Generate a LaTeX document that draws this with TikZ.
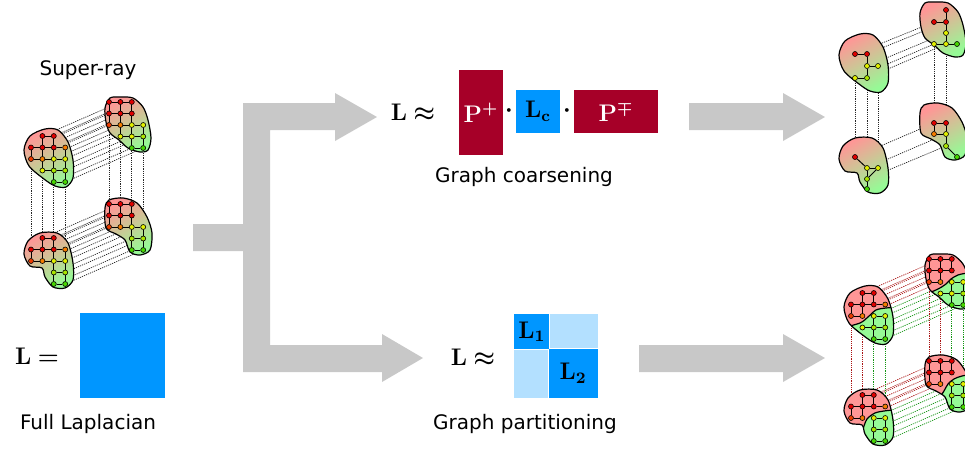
\documentclass[tikz,border=0pt]{standalone}
\usepackage[no-math]{fontspec}
\usepackage{amsmath}
\newfontfamily\labelfont{DejaVu Sans}

\definecolor{projred}{RGB}{166,0,40}
\definecolor{lapblue}{RGB}{0,150,255}
\definecolor{lapblight}{RGB}{179,224,255}
\definecolor{arrowgray}{RGB}{200,200,200}
\definecolor{blobred}{RGB}{255,150,150}
\definecolor{blobgreen}{RGB}{150,250,150}
\definecolor{nred}{RGB}{225,0,0}
\definecolor{nredor}{RGB}{235,60,0}
\definecolor{norange}{RGB}{245,125,0}
\definecolor{nyellow}{RGB}{225,240,0}
\definecolor{nlime}{RGB}{170,230,0}
\definecolor{ngreen}{RGB}{70,215,0}
\definecolor{dotred}{RGB}{170,20,20}
\definecolor{dotgreen}{RGB}{20,150,20}

\pgfdeclarelayer{bg}
\pgfsetlayers{bg,main}

\tikzset{
	gnode/.style={circle, draw=black, line width=0.3pt, inner sep=0pt, minimum size=2.5pt},
	gedge/.style={line width=0.5pt},
	dots/.style={line width=0.35pt, dash pattern=on 0.6pt off 0.5pt, black!85},
	blob/.style={draw=black, line width=0.6pt},
	rayshade/.style={top color=blobred, bottom color=blobgreen, shading angle=30},
	bigarrow/.style={fill=arrowgray},
	lbl/.style={font=\labelfont\fontsize{10}{12}\selectfont},
	eq/.style={font=\fontsize{12}{14}\selectfont},
	matbox/.style={inner sep=0pt, font=\fontsize{12}{14}\selectfont},
}

% blob outlines of one super-ray seen in four views
\newcommand{\shTL}{plot[smooth cycle] coordinates {(24,150) (30,136) (45,129) (58,130) (68,142) (73,160) (73,178) (66,187) (55,186) (44,179) (29,166)}}
\newcommand{\shTR}{plot[smooth cycle] coordinates {(105,108) (110,98) (120,97) (133,98) (143,107) (148,120) (151,138) (148,150) (140,152) (128,148) (119,140) (110,133) (106,122)}}
\newcommand{\shBL}{plot[smooth cycle] coordinates {(24,254) (28,241) (40,233) (57,233) (68,243) (73,263) (73,280) (65,288) (53,287) (45,277) (42,268) (30,266)}}
\newcommand{\shBR}{plot[smooth cycle] coordinates {(105,208) (109,200) (123,198) (137,203) (147,217) (152,233) (150,250) (140,255) (130,252) (125,240) (116,234) (106,228)}}

\newcommand{\nodesTL}{1/0/nred, 2/0/nred, 0/1/nred, 1/1/nred, 2/1/nred, 3/1/norange, 0/2/nredor, 1/2/norange, 2/2/nyellow, 3/2/nyellow, 1/3/nyellow, 2/3/nlime, 3/3/nlime, 2/4/ngreen, 3/4/ngreen}
\newcommand{\nodesTR}{0/0/nred, 1/0/nred, 2/0/nred, 0/1/nred, 1/1/nred, 2/1/nred, 0/2/nredor, 1/2/norange, 2/2/nyellow, 3/2/nyellow, 1/3/nyellow, 2/3/nyellow, 3/3/nlime, 2/4/ngreen, 3/4/ngreen}
\newcommand{\nodesBL}{1/0/nred, 2/0/nred, 0/1/nred, 1/1/nred, 2/1/nred, 3/1/norange, 0/2/nredor, 1/2/norange, 2/2/nyellow, 3/2/nyellow, 2/3/nlime, 3/3/nlime, 2/4/ngreen, 3/4/ngreen}
\newcommand{\nodesBR}{0/0/nred, 1/0/nred, 2/0/nred, 0/1/nred, 1/1/nred, 2/1/nred, 0/2/nredor, 1/2/norange, 2/2/nyellow, 3/2/nyellow, 2/3/nlime, 3/3/nlime, 2/4/ngreen, 3/4/ngreen}

\newcommand{\redA}{1-0/2-0, 1-0/1-1, 2-0/2-1, 0-1/1-1, 1-1/2-1, 2-1/3-1, 0-1/0-2, 1-1/1-2, 0-2/1-2}
\newcommand{\redB}{0-0/1-0, 1-0/2-0, 0-0/0-1, 1-0/1-1, 2-0/2-1, 0-1/1-1, 1-1/2-1, 0-1/0-2, 1-1/1-2, 0-2/1-2}
\newcommand{\greenA}{2-2/3-2, 2-2/2-3, 3-2/3-3, 1-3/2-3, 2-3/3-3, 2-3/2-4, 3-3/3-4, 2-4/3-4}
\newcommand{\greenB}{2-2/3-2, 2-2/2-3, 3-2/3-3, 2-3/3-3, 2-3/2-4, 3-3/3-4, 2-4/3-4}
\newcommand{\crossTL}{2-1/2-2, 3-1/3-2, 1-2/2-2, 1-2/1-3}
\newcommand{\crossTR}{2-1/2-2, 1-2/2-2, 1-2/1-3}
\newcommand{\crossBL}{2-1/2-2, 3-1/3-2, 1-2/2-2}
\newcommand{\crossBR}{2-1/2-2, 1-2/2-2}

\newcommand{\raypairs}{1-0, 2-0, 0-1, 1-1, 2-1, 0-2, 1-2, 2-2, 3-2, 2-3, 3-3, 2-4, 3-4}
\newcommand{\redpairs}{1-0, 2-0, 0-1, 1-1, 2-1, 0-2, 1-2}
\newcommand{\greenpairs}{2-2, 3-2, 2-3, 3-3, 2-4, 3-4}

\newcommand{\raynodes}[4]{\foreach \c/\r/\k in #4 {\node[gnode, fill=\k] (#1-\c-\r) at ({#2+11.4*\c},{#3+11.5*\r}) {};}}
\newcommand{\rayedges}[2]{\foreach \a/\b in #2 {\draw[gedge] (#1-\a) -- (#1-\b);}}

\begin{document}
\begin{tikzpicture}[x=0.5pt, y=-0.5pt]
	\useasboundingbox (0,0) rectangle (965,451);

	% grey arrows
	\fill[bigarrow] (193,224) -- (243,224) -- (243,103) -- (335,103) -- (335,93) -- (377,117) -- (335,141) -- (335,130) -- (270,130) -- (270,345) -- (382,345) -- (382,334) -- (423,358) -- (382,382) -- (382,372) -- (243,372) -- (243,251) -- (193,251) -- cycle;
	\fill[bigarrow] (689,103) -- (783,103) -- (783,93) -- (825,117) -- (783,141) -- (783,130) -- (689,130) -- cycle;
	\fill[bigarrow] (639,345) -- (783,345) -- (783,334) -- (825,358) -- (783,382) -- (783,372) -- (639,372) -- cycle;

	% full Laplacian
	\node[lbl] (superray) at (88,70) {Super-ray};
	\node[font=\fontsize{13}{15}\selectfont] (lfull) at (37,356) {$\mathbf{L}\boldsymbol{=}$};
	\node[fill=lapblue, minimum size=42.5pt, inner sep=0pt] (full) at (122.5,355.5) {};
	\node[lbl] (fulltxt) at (88,424) {Full Laplacian};

	% coarsening
	\node[eq] (lcoarse) at (413,113) {$\mathbf{L}\boldsymbol{\approx}$};
	\node[matbox, fill=projred, text=white, minimum width=22pt, minimum height=42.5pt] (pplus) at (481,112.5) {$\mathbf{P}^{\boldsymbol{+}}$};
	\node[eq] (dota) at (509,111) {$\boldsymbol{\cdot}$};
	\node[matbox, fill=lapblue, minimum width=22pt, minimum height=21.5pt] (lc) at (538,111.5) {$\mathbf{L_c}$};
	\node[eq] (dotb) at (567,111) {$\boldsymbol{\cdot}$};
	\node[matbox, fill=projred, text=white, minimum width=42pt, minimum height=21.5pt] (pmp) at (616,111.5) {$\mathbf{P}^{\boldsymbol{\mp}}$};
	\node[lbl] (coarsetxt) at (524,177) {Graph coarsening};

	% partitioning
	\node[eq] (lpart) at (473,358) {$\mathbf{L}\boldsymbol{\approx}$};
	\node[matbox, fill=lapblue, minimum size=17.5pt, anchor=north west] (lone) at (514,314) {$\mathbf{L_1}$};
	\node[matbox, fill=lapblue, minimum size=24.5pt, anchor=south east] (ltwo) at (598,398) {$\mathbf{L_2}$};
	\fill[lapblight] (lone.north east) rectangle (ltwo.north east);
	\fill[lapblight] (lone.south west) rectangle (ltwo.south west);
	\node[lbl] (parttxt) at (525,424) {Graph partitioning};

	% super-ray, full graph
	\shadedraw[blob, rayshade] \shTL;
	\shadedraw[blob, rayshade] \shTR;
	\shadedraw[blob, rayshade] \shBL;
	\shadedraw[blob, rayshade] \shBR;
	\raynodes{s-tl}{31}{136}{\nodesTL}
	\raynodes{s-tr}{109}{102}{\nodesTR}
	\raynodes{s-bl}{31}{238}{\nodesBL}
	\raynodes{s-br}{109}{204}{\nodesBR}
	\rayedges{s-tl}{\redA} \rayedges{s-tl}{\greenA} \rayedges{s-tl}{\crossTL}
	\rayedges{s-tr}{\redB} \rayedges{s-tr}{\greenA} \rayedges{s-tr}{\crossTR}
	\rayedges{s-bl}{\redA} \rayedges{s-bl}{\greenB} \rayedges{s-bl}{\crossBL}
	\rayedges{s-br}{\redB} \rayedges{s-br}{\greenB} \rayedges{s-br}{\crossBR}
	\begin{pgfonlayer}{bg}
		\foreach \n in \raypairs {\draw[dots] (s-tl-\n) -- (s-tr-\n); \draw[dots] (s-bl-\n) -- (s-br-\n);}
		\foreach \a/\b in {0-2/0-1, 1-3/1-0, 2-4/2-0, 3-4/3-1} {\draw[dots] (s-tl-\a) -- (s-bl-\b);}
		\foreach \a/\b in {0-2/0-0, 1-3/1-0, 2-4/2-0, 3-4/3-2} {\draw[dots] (s-tr-\a) -- (s-br-\b);}
	\end{pgfonlayer}

	% coarsened graph
	\begin{scope}[shift={(815,-95)}]
		\shadedraw[blob, rayshade] \shTL;
		\shadedraw[blob, rayshade] \shTR;
		\shadedraw[blob, rayshade] \shBL;
		\shadedraw[blob, rayshade] \shBR;
		\foreach \n/\x/\y/\k in {a/40/149/nred, b/52/149/nred, c/52/161/nyellow, d/63/161/nyellow, e/40/173/nyellow, f/52/173/nlime,
			t1/131/105/nred, t2/119/117/nred, t3/131/117/nred, t4/131/128/nyellow, t5/119/139/nyellow, t6/131/139/nyellow, t7/142/139/ngreen,
			g/40/252/nred, h/52/263/nyellow, i/63/263/nyellow, j/52/274/nlime, k/52/284/ngreen,
			u1/119/218/nred, u2/131/218/nred, u3/119/229/norange, u4/131/229/nyellow, u5/131/241/nlime, u6/142/252/ngreen}
			{\node[gnode, fill=\k] (c-\n) at (\x,\y) {};}
		\foreach \a/\b in {a/b, b/c, c/d, c/f, e/f, t1/t3, t2/t3, t3/t4, t4/t6, t5/t6, t6/t7, g/h, h/i, h/j, i/j, j/k, u1/u2, u1/u3, u2/u4, u3/u4, u4/u5, u5/u6}
			{\draw[gedge] (c-\a) -- (c-\b);}
		\begin{pgfonlayer}{bg}
			\foreach \a/\b in {a/t2, b/t3, c/t4, e/t5, f/t6, g/u1, h/u4, j/u5, e/g, f/h, d/i, t5/u1, t6/u2}
				{\draw[dots] (c-\a) -- (c-\b);}
		\end{pgfonlayer}
	\end{scope}

	% partitioned graph
	\begin{scope}[shift={(820,157)}]
		\fill[blobred] \shTL; \fill[blobred] \shTR; \fill[blobred] \shBL; \fill[blobred] \shBR;
		\begin{scope}
			\clip \shTL;
			\filldraw[fill=blobgreen, line width=0.6pt] (24,200) -- plot[smooth] coordinates {(22,171) (40,166) (48,160) (56,153) (66,151) (80,150)} -- (80,200) -- cycle;
		\end{scope}
		\begin{scope}
			\clip \shTR;
			\filldraw[fill=blobgreen, line width=0.6pt] (100,170) -- plot[smooth] coordinates {(102,139) (118,132) (126,127) (131,122) (138,118) (148,116) (160,116)} -- (160,170) -- cycle;
		\end{scope}
		\begin{scope}
			\clip \shBL;
			\filldraw[fill=blobgreen, line width=0.6pt] (44,300) -- plot[smooth] coordinates {(43,272) (47,262) (55,256) (64,254) (74,253) (84,253)} -- (84,300) -- cycle;
		\end{scope}
		\begin{scope}
			\clip \shBR;
			\filldraw[fill=blobgreen, line width=0.6pt] (118,260) -- plot[smooth] coordinates {(120,240) (124,234) (128,227) (134,222) (142,219) (158,216)} -- (158,260) -- cycle;
		\end{scope}
		\draw[blob] \shTL; \draw[blob] \shTR; \draw[blob] \shBL; \draw[blob] \shBR;
		\raynodes{p-tl}{31}{136}{\nodesTL}
		\raynodes{p-tr}{109}{102}{\nodesTR}
		\raynodes{p-bl}{31}{238}{\nodesBL}
		\raynodes{p-br}{109}{204}{\nodesBR}
		\rayedges{p-tl}{\redA} \rayedges{p-tl}{\greenA}
		\rayedges{p-tr}{\redB} \rayedges{p-tr}{\greenA}
		\rayedges{p-bl}{\redA} \rayedges{p-bl}{\greenB}
		\rayedges{p-br}{\redB} \rayedges{p-br}{\greenB}
		\begin{pgfonlayer}{bg}
			\foreach \n in \redpairs {\draw[dots, dotred] (p-tl-\n) -- (p-tr-\n); \draw[dots, dotred] (p-bl-\n) -- (p-br-\n);}
			\foreach \n in \greenpairs {\draw[dots, dotgreen] (p-tl-\n) -- (p-tr-\n); \draw[dots, dotgreen] (p-bl-\n) -- (p-br-\n);}
			\foreach \a/\b/\k in {0-2/0-1/dotred, 1-3/1-0/dotred, 2-4/2-0/dotgreen, 3-4/3-1/dotgreen} {\draw[dots, \k] (p-tl-\a) -- (p-bl-\b);}
			\foreach \a/\b/\k in {0-2/0-0/dotred, 1-3/1-0/dotred, 2-4/2-0/dotgreen, 3-4/3-2/dotgreen} {\draw[dots, \k] (p-tr-\a) -- (p-br-\b);}
		\end{pgfonlayer}
	\end{scope}
\end{tikzpicture}
\end{document}
